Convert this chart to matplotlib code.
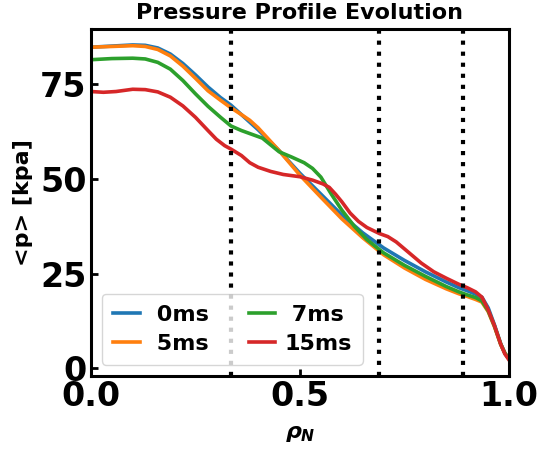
import matplotlib
matplotlib.use("Agg")
import matplotlib.pyplot as plt

plt.rcParams["mathtext.fontset"] = "custom"
plt.rcParams["mathtext.it"] = "DejaVu Sans:italic:bold"
plt.rcParams["mathtext.rm"] = "DejaVu Sans:bold"

labels = [" 0ms", " 5ms", " 7ms", "15ms"]
colors = ["#1f77b4", "#ff7f0e", "#2ca02c", "#d62728"]

rho_0 = [0.0, 0.05, 0.1, 0.13, 0.16, 0.19, 0.22, 0.25, 0.28, 0.31, 0.335, 0.36, 0.4, 0.45, 0.5, 0.55, 0.6, 0.65, 0.7, 0.75, 0.8, 0.85, 0.88, 0.9, 0.92, 0.935, 0.95, 0.965, 0.98, 0.99, 1.0]
p_0 = [84.8, 85.1, 85.4, 85.3, 84.6, 83.0, 80.5, 77.5, 74.3, 71.5, 69.5, 67.0, 63.0, 57.5, 51.5, 46.0, 40.5, 35.8, 31.8, 28.5, 25.5, 22.8, 21.3, 20.5, 19.6, 18.8, 16.0, 11.5, 6.5, 4.0, 2.5]

rho_5 = [0.0, 0.05, 0.1, 0.13, 0.16, 0.19, 0.22, 0.25, 0.28, 0.31, 0.335, 0.36, 0.38, 0.4, 0.45, 0.5, 0.55, 0.6, 0.65, 0.7, 0.75, 0.8, 0.85, 0.88, 0.9, 0.92, 0.935, 0.95, 0.965, 0.98, 0.99, 1.0]
p_5 = [84.8, 85.0, 85.2, 85.0, 84.2, 82.5, 79.8, 76.6, 73.3, 70.8, 68.8, 67.0, 65.5, 63.5, 57.5, 51.0, 45.2, 39.5, 34.5, 30.0, 26.5, 23.5, 21.0, 19.7, 19.0, 18.2, 17.5, 15.0, 11.0, 6.3, 4.0, 2.5]

rho_7 = [0.0, 0.05, 0.1, 0.13, 0.16, 0.19, 0.22, 0.25, 0.28, 0.31, 0.335, 0.36, 0.38, 0.41, 0.43, 0.45, 0.48, 0.51, 0.53, 0.55, 0.575, 0.6, 0.63, 0.66, 0.7, 0.75, 0.8, 0.85, 0.88, 0.9, 0.92, 0.935, 0.95, 0.965, 0.98, 0.99, 1.0]
p_7 = [81.5, 81.8, 81.9, 81.7, 80.8, 79.0, 76.0, 72.5, 69.2, 66.3, 64.0, 62.8, 62.0, 60.8, 59.0, 57.2, 55.8, 54.3, 52.8, 50.5, 46.0, 41.8, 37.5, 34.0, 30.5, 27.2, 24.3, 21.6, 20.2, 19.4, 18.7, 17.8, 15.2, 11.2, 6.4, 4.0, 2.5]

rho_15 = [0.0, 0.03, 0.06, 0.1, 0.13, 0.16, 0.19, 0.22, 0.25, 0.28, 0.3, 0.32, 0.335, 0.36, 0.38, 0.4, 0.43, 0.46, 0.5, 0.53, 0.555, 0.57, 0.585, 0.6, 0.62, 0.64, 0.66, 0.69, 0.71, 0.73, 0.76, 0.79, 0.82, 0.85, 0.88, 0.9, 0.92, 0.935, 0.95, 0.965, 0.98, 0.99, 1.0]
p_15 = [73.1, 72.9, 73.1, 73.7, 73.6, 73.0, 71.6, 69.3, 66.3, 62.8, 60.5, 58.8, 57.9, 56.2, 54.3, 53.1, 52.0, 51.2, 50.6, 49.7, 48.7, 47.8, 46.0, 44.0, 41.0, 38.8, 37.2, 35.6, 34.8, 33.4, 30.6, 27.8, 25.5, 23.8, 22.2, 21.3, 20.2, 18.8, 15.5, 11.3, 6.4, 3.8, 2.2]

vlines = [0.335, 0.69, 0.89]
xticks = [0.0, 0.5, 1.0]
yticks = [0, 25, 50, 75]

fig = plt.figure(figsize=(5.41, 4.49), dpi=100)
ax = fig.add_axes([0.168, 0.163, 0.773, 0.772])

series = [(rho_0, p_0), (rho_5, p_5), (rho_7, p_7), (rho_15, p_15)]
for (x, y), lab, c in zip(series, labels, colors):
    ax.plot(x, y, color=c, lw=2.6, label=lab, solid_joinstyle="round")

for v in vlines:
    ax.axvline(v, color="black", ls=":", lw=3)

ax.set_xlim(0, 1)
ax.set_xticks(xticks)
ax.set_xticklabels(["0.0", "0.5", "1.0"])
ax.set_yticks(yticks)
ax.tick_params(direction="in", length=5, width=2, labelsize=24, pad=3)
for t in ax.get_xticklabels() + ax.get_yticklabels():
    t.set_fontweight("bold")
for s in ax.spines.values():
    s.set_linewidth(2.2)

ax.set_title("Pressure Profile Evolution", fontsize=16, fontweight="bold", pad=7)
ax.set_ylabel("<p> [kpa]", fontsize=16, fontweight="bold", labelpad=5)
ax.set_xlabel(r"$\rho_N$", fontsize=16, labelpad=8)

ax.legend(loc="lower left", ncol=2, prop={"weight": "bold", "size": 16},
          handlelength=1.2, handletextpad=0.4, columnspacing=1.8,
          borderpad=0.5, labelspacing=0.4)

fig.savefig("out.png", dpi=100)
